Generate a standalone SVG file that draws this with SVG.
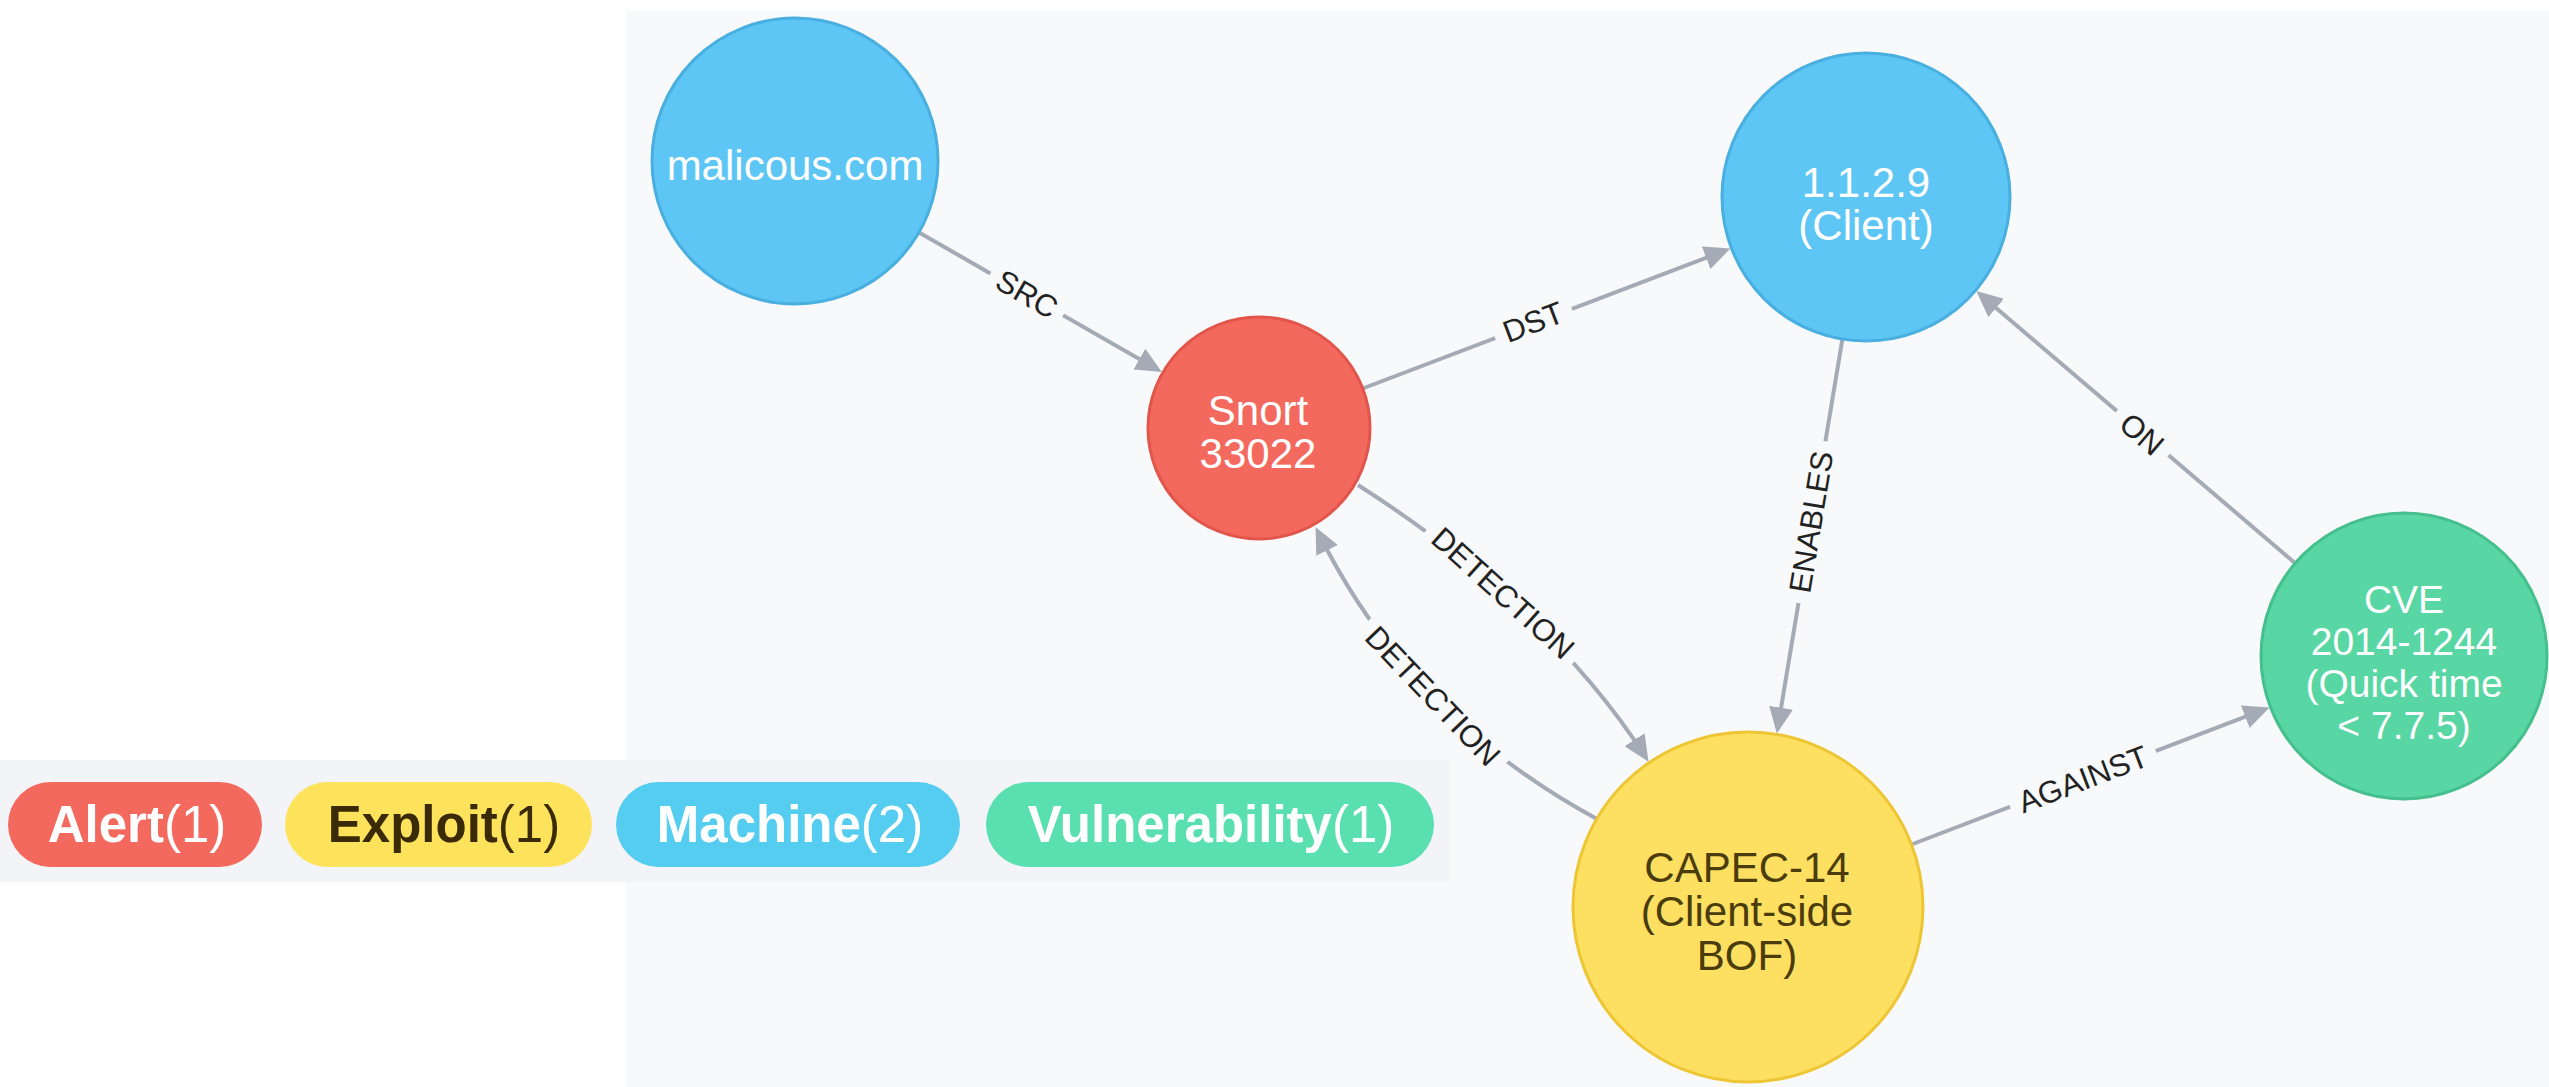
<svg xmlns="http://www.w3.org/2000/svg" width="2549" height="1087" viewBox="0 0 2549 1087">
<style>
.edge{fill:none;stroke:#a5abb6;stroke-width:4}
.lbl{font-family:"Liberation Sans",Arial,Helvetica,sans-serif;font-size:31px;fill:#222;text-anchor:middle}
.lblbg{fill:#f8f9fa}
.ntxt{font-family:"Liberation Sans",Arial,Helvetica,sans-serif;font-size:42px;text-anchor:middle}
.small{font-size:39px}
.white{fill:#ffffff}
.dark{fill:#4a3c0c}
.leg{font-family:"Liberation Sans",Arial,Helvetica,sans-serif;font-size:51px;text-anchor:middle}
.b{font-weight:bold}
</style>
<defs>
<marker id="arr" viewBox="0 0 26 24" refX="20" refY="12" markerWidth="26" markerHeight="24" markerUnits="userSpaceOnUse" orient="auto">
<path d="M0,0 L26,12 L0,24 Z" fill="#a5abb6"/>
</marker>
</defs>
<rect x="0" y="0" width="2549" height="1087" fill="#ffffff"/>
<rect x="626" y="11" width="1923" height="1076" fill="#f8f9fa"/>
<rect x="0" y="760" width="1450" height="122" fill="#f3f4f7"/>

<g id="connectors">
<g id="e-src">
<line class="edge" x1="919" y1="232.4" x2="1156.7" y2="369.1" marker-end="url(#arr)"/>
<g transform="translate(1027,294) rotate(29.9)"><rect class="lblbg" x="-42" y="-18" width="84" height="36"/><text class="lbl" x="0" y="0" dy="0.35em">SRC</text></g>
</g>
<g id="e-dst">
<line class="edge" x1="1362.7" y1="388.5" x2="1724.8" y2="250.7" marker-end="url(#arr)"/>
<g transform="translate(1533,322) rotate(-20.8)"><rect class="lblbg" x="-41" y="-18" width="82" height="36"/><text class="lbl" x="0" y="0" dy="0.35em">DST</text></g>
</g>
<g id="e-det1">
<path class="edge" d="M1358,485 Q1550,608 1645.3,756.6" marker-end="url(#arr)"/>
<g transform="translate(1503,593) rotate(42)"><rect class="lblbg" x="-99" y="-18" width="198" height="36"/><text class="lbl" x="0" y="0" dy="0.35em">DETECTION</text></g>
</g>
<g id="e-det2">
<path class="edge" d="M1597,819 Q1410,718 1318.2,532.5" marker-end="url(#arr)"/>
<g transform="translate(1433,696) rotate(46.3)"><rect class="lblbg" x="-99" y="-18" width="198" height="36"/><text class="lbl" x="0" y="0" dy="0.35em">DETECTION</text></g>
</g>
<g id="e-enables">
<line class="edge" x1="1842.4" y1="339.1" x2="1777.8" y2="727.5" marker-end="url(#arr)"/>
<g transform="translate(1811,522) rotate(-80.6)"><rect class="lblbg" x="-82" y="-18" width="164" height="36"/><text class="lbl" x="0" y="0" dy="0.35em">ENABLES</text></g>
</g>
<g id="e-on">
<line class="edge" x1="2295.2" y1="563.2" x2="1980.9" y2="295.0" marker-end="url(#arr)"/>
<g transform="translate(2142,434) rotate(40.5)"><rect class="lblbg" x="-34" y="-18" width="68" height="36"/><text class="lbl" x="0" y="0" dy="0.35em">ON</text></g>
</g>
<g id="e-against">
<line class="edge" x1="1911.5" y1="844.5" x2="2263.9" y2="709.6" marker-end="url(#arr)"/>
<g transform="translate(2083,779) rotate(-20.9)"><rect class="lblbg" x="-78" y="-18" width="156" height="36"/><text class="lbl" x="0" y="0" dy="0.35em">AGAINST</text></g>
</g>
</g>

<g id="node-malicous">
<circle cx="795" cy="161" r="143" fill="#5ec6f4" stroke="#48afe0" stroke-width="3"/>
<text class="ntxt white" x="795" y="180">malicous.com</text>
</g>
<g id="node-snort">
<circle cx="1259" cy="428" r="111" fill="#f4695e" stroke="#e2554a" stroke-width="3"/>
<text class="ntxt white" x="1258" y="425">Snort</text>
<text class="ntxt white" x="1258" y="468">33022</text>
</g>
<g id="node-client">
<circle cx="1866" cy="197" r="144" fill="#5ec6f4" stroke="#48afe0" stroke-width="3"/>
<text class="ntxt white" x="1866" y="197">1.1.2.9</text>
<text class="ntxt white" x="1866" y="240">(Client)</text>
</g>
<g id="node-capec">
<circle cx="1748" cy="907" r="175" fill="#fddf62" stroke="#eec533" stroke-width="3"/>
<text class="ntxt dark" x="1747" y="882">CAPEC-14</text>
<text class="ntxt dark" x="1747" y="926">(Client-side</text>
<text class="ntxt dark" x="1747" y="970">BOF)</text>
</g>
<g id="node-cve">
<circle cx="2404" cy="656" r="143" fill="#58d6a3" stroke="#45bf8d" stroke-width="3"/>
<text class="ntxt small white" x="2404" y="613">CVE</text>
<text class="ntxt small white" x="2404" y="655">2014-1244</text>
<text class="ntxt small white" x="2404" y="697">(Quick time</text>
<text class="ntxt small white" x="2404" y="739">&lt; 7.7.5)</text>
</g>

<g id="legend">
<g id="leg-alert">
<rect x="8" y="782" width="254" height="85" rx="42.5" fill="#f4695e"/>
<text class="leg white" x="137" y="842"><tspan class="b">Alert</tspan>(1)</text>
</g>
<g id="leg-exploit">
<rect x="285" y="782" width="307" height="85" rx="42.5" fill="#fde35c"/>
<text class="leg" x="444" y="842" fill="#3a2a05"><tspan class="b">Exploit</tspan>(1)</text>
</g>
<g id="leg-machine">
<rect x="616" y="782" width="344" height="85" rx="42.5" fill="#55cdf0"/>
<text class="leg white" x="790" y="842"><tspan class="b">Machine</tspan>(2)</text>
</g>
<g id="leg-vuln">
<rect x="986" y="782" width="448" height="85" rx="42.5" fill="#5ae0b0"/>
<text class="leg white" x="1211" y="842"><tspan class="b">Vulnerability</tspan>(1)</text>
</g>
</g>
</svg>
